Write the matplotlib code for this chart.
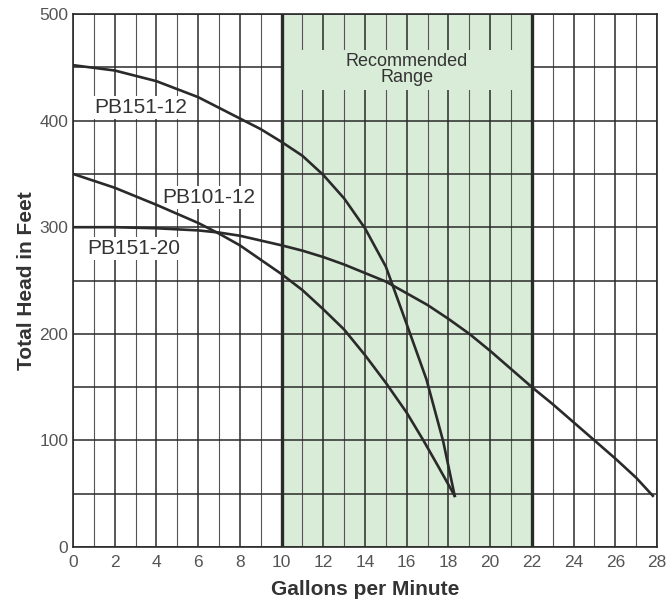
import matplotlib.pyplot as plt
from matplotlib.ticker import MultipleLocator
from matplotlib.patches import Rectangle

plt.rcParams['font.family'] = ['Liberation Sans', 'DejaVu Sans']

# Pump curves (gallons per minute, feet of head)
pb151_12_gpm = [0, 2, 4, 6, 8, 9, 10, 11, 12, 13, 14, 15, 16, 16.95, 17.75, 18.3]
pb151_12_head = [452, 447, 437, 422, 402, 392, 380, 367, 349, 327, 299, 263, 209, 157, 99, 48]

pb101_12_gpm = [0, 2, 4, 6, 7, 8, 10, 11, 12, 13, 14, 15, 16, 16.8, 17.5, 18.3]
pb101_12_head = [350, 337, 321, 304, 294, 283, 256, 241, 223, 204, 180, 154, 126, 100, 76, 48]

pb151_20_gpm = [0, 2, 4, 6, 7, 8, 10, 11, 12, 13, 14, 15, 16, 17, 18, 19, 20, 21, 22, 23, 24, 25, 26, 27, 27.8]
pb151_20_head = [300, 300, 299, 297, 295, 292, 283, 278, 272, 265, 257, 249, 238, 227, 214, 200, 184, 167, 150, 134, 117, 100, 83, 65, 48]

curve_names = ["PB151-12", "PB101-12", "PB151-20"]
label_x = [1.0, 4.3, 0.7]
label_y = [412, 328, 280]

range_lo, range_hi = 10, 22
range_text = "Recommended\nRange"

GREEN = "#d9ecd7"
INK = "#2a2a2a"

fig = plt.figure(figsize=(6.70, 5.99), dpi=100)
ax = fig.add_axes([73/670, 1 - 547/599, 584/670, 533/599])

ax.set_xlim(0, 28)
ax.set_ylim(0, 500)

# Grid: every gallon, every 50 feet
ax.xaxis.set_major_locator(MultipleLocator(2))
ax.xaxis.set_minor_locator(MultipleLocator(1))
ax.yaxis.set_major_locator(MultipleLocator(100))
ax.yaxis.set_minor_locator(MultipleLocator(50))
ax.set_axisbelow(True)
ax.grid(which='major', axis='both', color=INK, lw=1.1)
ax.grid(which='minor', axis='y', color=INK, lw=1.1)
ax.grid(which='minor', axis='x', color="#555555", lw=0.8)
ax.tick_params(which='both', length=0)
ax.tick_params(axis='x', pad=6, labelsize=12.5, labelcolor="#555555")
ax.tick_params(axis='y', pad=3.5, labelsize=12.5, labelcolor="#555555")

for sp in ax.spines.values():
    sp.set_color(INK)
    sp.set_linewidth(1.2)

# Recommended range band
ax.axvspan(range_lo, range_hi, color=GREEN, zorder=0.2, lw=0)
ax.add_patch(Rectangle((range_lo, 429), range_hi - range_lo, 37, facecolor=GREEN, edgecolor='none', zorder=1))
ax.axvline(range_lo, color=INK, lw=2.4, zorder=2)
ax.axvline(range_hi, color=INK, lw=2.4, zorder=2)
ax.text((range_lo + range_hi) / 2, 448, range_text, ha='center', va='center',
        fontsize=13, color="#333333", linespacing=0.95, zorder=2)

# Curves
ax.plot(pb151_12_gpm, pb151_12_head, color=INK, lw=1.9, zorder=3)
ax.plot(pb101_12_gpm, pb101_12_head, color=INK, lw=1.9, zorder=3)
ax.plot(pb151_20_gpm, pb151_20_head, color=INK, lw=1.9, zorder=3)

for name, x, y in zip(curve_names, label_x, label_y):
    ax.text(x, y, name, ha='left', va='center', fontsize=15, color="#333333", zorder=2.5,
            bbox=dict(facecolor='white', edgecolor='none', pad=1.5))

ax.set_xlabel("Gallons per Minute", fontsize=15, fontweight='bold', color="#333333", labelpad=7)
ax.set_ylabel("Total Head in Feet", fontsize=15, fontweight='bold', color="#333333", labelpad=2)

fig.savefig("out.png", dpi=100)
